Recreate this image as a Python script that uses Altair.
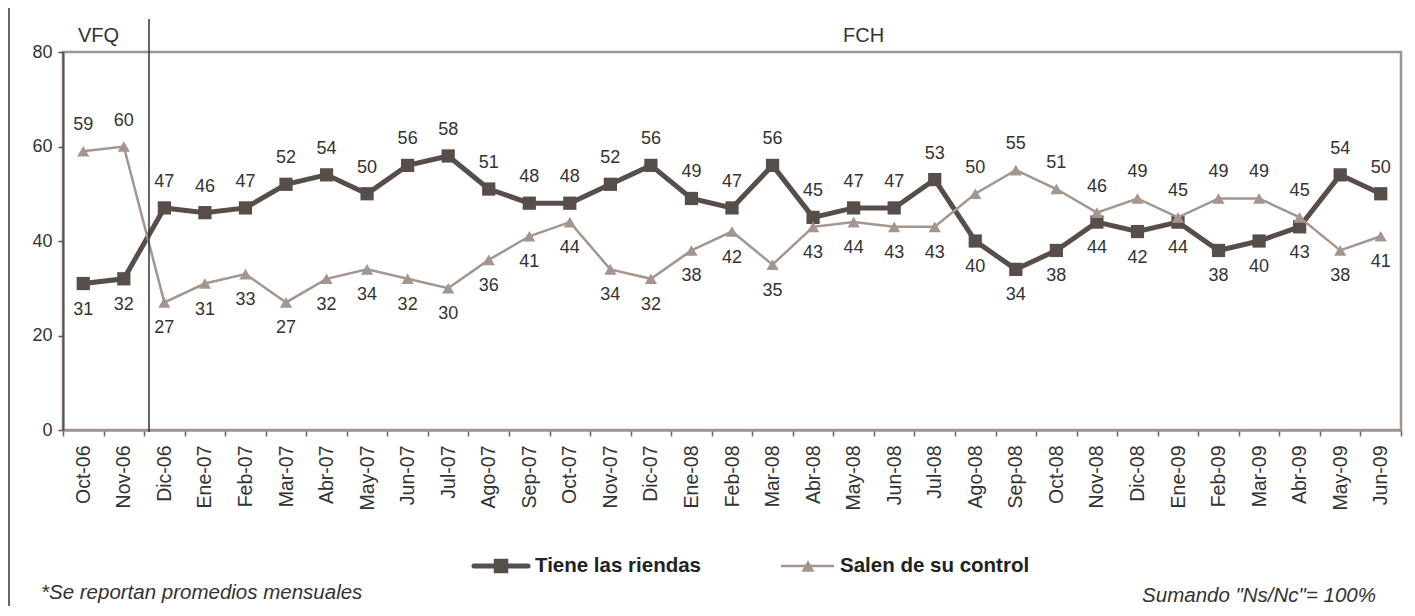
import altair as alt
import pandas as pd

months = ["Oct-06", "Nov-06", "Dic-06", "Ene-07", "Feb-07", "Mar-07", "Abr-07", "May-07",
          "Jun-07", "Jul-07", "Ago-07", "Sep-07", "Oct-07", "Nov-07", "Dic-07", "Ene-08",
          "Feb-08", "Mar-08", "Abr-08", "May-08", "Jun-08", "Jul-08", "Ago-08", "Sep-08",
          "Oct-08", "Nov-08", "Dic-08", "Ene-09", "Feb-09", "Mar-09", "Abr-09", "May-09",
          "Jun-09"]
tiene = [31, 32, 47, 46, 47, 52, 54, 50, 56, 58, 51, 48, 48, 52, 56, 49, 47, 56, 45, 47,
         47, 53, 40, 34, 38, 44, 42, 44, 38, 40, 43, 54, 50]
salen = [59, 60, 27, 31, 33, 27, 32, 34, 32, 30, 36, 41, 44, 34, 32, 38, 42, 35, 43, 44,
         43, 43, 50, 55, 51, 46, 49, 45, 49, 49, 45, 38, 41]
series_names = ["Tiene las riendas", "Salen de su control"]
periods = ["VFQ", "FCH"]
footnotes = ["*Se reportan promedios mensuales", 'Sumando "Ns/Nc"= 100%']

C_T = "#574e4a"
C_S = "#a4968f"
FONT = "Liberation Sans"
W, H = 1338, 378
PB = 176

rows = []
for m, t, s in zip(months, tiene, salen):
    rows.append({"month": m, "series": series_names[0], "value": t, "above": t >= s})
    rows.append({"month": m, "series": series_names[1], "value": s, "above": s > t})
df = pd.DataFrame(rows)

x = alt.X("month:N", sort=months,
          scale=alt.Scale(type="band", paddingInner=0, paddingOuter=0),
          axis=alt.Axis(title=None, labelAngle=-90, labelAlign="right", labelBaseline="middle",
                        labelFont=FONT, labelFontSize=19.5, labelColor="#333333",
                        labelPadding=9, tickBand="extent", tickSize=6, tickColor="#6e6562",
                        tickWidth=1.5, domainColor="#a09490", domainWidth=2.5))
y = alt.Y("value:Q", scale=alt.Scale(domain=[0, 80]),
          axis=alt.Axis(title=None, values=[0, 20, 40, 60, 80], grid=False,
                        labelFont=FONT, labelFontSize=18, labelColor="#333333",
                        labelPadding=6, tickSize=5, tickColor="#5b5250", tickWidth=1.5,
                        domainColor="#5b5250", domainWidth=2))

base = alt.Chart(df)
t_data = base.transform_filter(alt.datum.series == series_names[0])
s_data = base.transform_filter(alt.datum.series == series_names[1])

line_t = t_data.mark_line(color=C_T, strokeWidth=5).encode(x=x, y=y)
pts_t = t_data.mark_point(shape="square", filled=True, opacity=1, size=175, color=C_T).encode(x=x, y=y)
line_s = s_data.mark_line(color=C_S, strokeWidth=2.5).encode(x=x, y=y)
pts_s = s_data.mark_point(shape="triangle-up", filled=True, opacity=1, size=150, color=C_S).encode(x=x, y=y)

def labels(above):
    return base.transform_filter(alt.datum.above == above).mark_text(
        font=FONT, fontSize=18, color="#333333", baseline="middle", align="center",
        dy=-26 if above else 26).encode(x=x, y=y, text=alt.Text("value:Q"))

lab_up = labels(True)
lab_dn = labels(False)

one = alt.Chart(pd.DataFrame({"name": series_names}))
sep = one.transform_filter(alt.datum.name == series_names[0]).mark_rule(
    color="#333333", strokeWidth=1.5).encode(x=alt.value(86), y=alt.value(-33), y2=alt.value(H + 2))
border = one.transform_filter(alt.datum.name == series_names[0]).mark_rule(
    color="#333333", strokeWidth=1.5).encode(x=alt.value(-54), y=alt.value(-44), y2=alt.value(H + PB))

pdf = alt.Chart(pd.DataFrame({"period": periods}))
hdr_v = pdf.transform_filter(alt.datum.period == periods[0]).mark_text(
    font=FONT, fontSize=20, color="#333333", align="left", baseline="alphabetic").encode(
    x=alt.value(15), y=alt.value(-10), text="period:N")
hdr_f = pdf.transform_filter(alt.datum.period == periods[1]).mark_text(
    font=FONT, fontSize=20, color="#333333", align="left", baseline="alphabetic").encode(
    x=alt.value(780), y=alt.value(-10), text="period:N")

LY = 514
leg_t_sel = one.transform_filter(alt.datum.name == series_names[0])
leg_s_sel = one.transform_filter(alt.datum.name == series_names[1])
leg_t_line = leg_t_sel.mark_rule(color=C_T, strokeWidth=5, strokeCap="round").encode(
    x=alt.value(411), x2=alt.value(465), y=alt.value(LY))
leg_t_pt = leg_t_sel.mark_point(shape="square", filled=True, opacity=1, size=210, color=C_T).encode(
    x=alt.value(438), y=alt.value(LY))
leg_t_txt = leg_t_sel.mark_text(font=FONT, fontSize=20.5, fontWeight="bold", color="#222222",
                                align="left", baseline="middle").encode(
    x=alt.value(472), y=alt.value(LY), text="name:N")
leg_s_line = leg_s_sel.mark_rule(color=C_S, strokeWidth=2.5).encode(
    x=alt.value(718), x2=alt.value(771), y=alt.value(LY))
leg_s_pt = leg_s_sel.mark_point(shape="triangle-up", filled=True, opacity=1, size=170, color=C_S).encode(
    x=alt.value(745), y=alt.value(LY))
leg_s_txt = leg_s_sel.mark_text(font=FONT, fontSize=20.5, fontWeight="bold", color="#222222",
                                align="left", baseline="middle").encode(
    x=alt.value(777), y=alt.value(LY), text="name:N")

fdf = alt.Chart(pd.DataFrame({"note": footnotes}))
foot_l = fdf.transform_filter(alt.datum.note == footnotes[0]).mark_text(
    font=FONT, fontSize=20.5, fontStyle="italic", color="#333333", align="left",
    baseline="alphabetic").encode(x=alt.value(-22), y=alt.value(547), text="note:N")
foot_r = fdf.transform_filter(alt.datum.note == footnotes[1]).mark_text(
    font=FONT, fontSize=20.5, fontStyle="italic", color="#333333", align="right",
    baseline="alphabetic").encode(x=alt.value(1313), y=alt.value(550), text="note:N")

chart = alt.layer(
    line_t, pts_t, line_s, pts_s, lab_up, lab_dn, sep, border, hdr_v, hdr_f,
    leg_t_line, leg_t_pt, leg_t_txt, leg_s_line, leg_s_pt, leg_s_txt, foot_l, foot_r
).properties(
    width=W, height=H,
    autosize=alt.AutoSizeParams(type="none"),
    padding={"left": 55, "top": 44, "right": 4, "bottom": PB},
    background="white",
).configure_view(stroke="#a09490", strokeWidth=2.5)

chart.save("out.html", embed_options={"renderer": "svg", "actions": False})
